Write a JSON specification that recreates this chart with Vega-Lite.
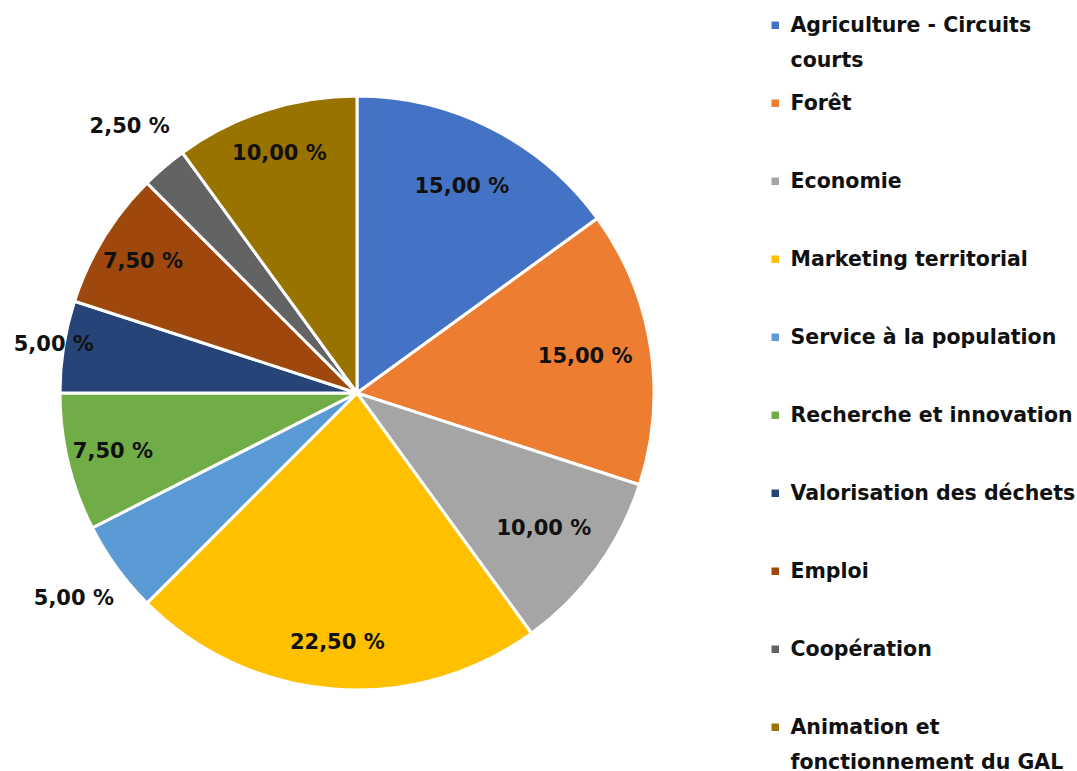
{
  "$schema": "https://vega.github.io/schema/vega-lite/v6.json",
  "width": 714,
  "height": 756,
  "padding": {"left": 0, "top": 15, "right": 0, "bottom": 0},
  "autosize": {"type": "pad"},
  "background": "white",
  "data": {
    "values": [
      {"idx": 1, "category": "Agriculture - Circuits courts", "value": 15, "label": "15,00 %"},
      {"idx": 2, "category": "Forêt", "value": 15, "label": "15,00 %"},
      {"idx": 3, "category": "Economie", "value": 10, "label": "10,00 %"},
      {"idx": 4, "category": "Marketing territorial", "value": 22.5, "label": "22,50 %"},
      {"idx": 5, "category": "Service à la population", "value": 5, "label": "5,00 %"},
      {"idx": 6, "category": "Recherche et innovation", "value": 7.5, "label": "7,50 %"},
      {"idx": 7, "category": "Valorisation des déchets", "value": 5, "label": "5,00 %"},
      {"idx": 8, "category": "Emploi", "value": 7.5, "label": "7,50 %"},
      {"idx": 9, "category": "Coopération", "value": 2.5, "label": "2,50 %"},
      {"idx": 10, "category": "Animation et fonctionnement du GAL", "value": 10, "label": "10,00 %"}
    ]
  },
  "encoding": {
    "theta": {"field": "value", "type": "quantitative", "stack": true},
    "order": {"field": "idx", "type": "quantitative"}
  },
  "layer": [
    {
      "mark": {"type": "arc", "outerRadius": 297, "stroke": "white", "strokeWidth": 3},
      "encoding": {
        "color": {
          "field": "category",
          "type": "nominal",
          "scale": {
            "domain": ["Agriculture - Circuits courts", "Forêt", "Economie", "Marketing territorial", "Service à la population", "Recherche et innovation", "Valorisation des déchets", "Emploi", "Coopération", "Animation et fonctionnement du GAL"],
            "range": ["#4472C4", "#ED7D31", "#A5A5A5", "#FFC000", "#5B9BD5", "#70AD47", "#264478", "#9E480E", "#636363", "#997300"]
          },
          "legend": {
            "title": null,
            "orient": "none",
            "legendX": 765,
            "legendY": 0,
            "padding": 0,
            "symbolType": "square",
            "symbolSize": 56,
            "symbolStrokeWidth": 0,
            "labelFont": "DejaVu Sans",
            "labelFontWeight": "bold",
            "labelFontSize": 20.5,
            "labelColor": "#111111",
            "labelLimit": 400,
            "labelOffset": 5,
            "labelBaseline": "alphabetic",
            "gridAlign": "all",
            "rowPadding": 21,
            "labelExpr": "datum.label == 'Agriculture - Circuits courts' ? ['Agriculture - Circuits', 'courts'] : datum.label == 'Animation et fonctionnement du GAL' ? ['Animation et', 'fonctionnement du GAL'] : datum.label",
            "encoding": {"labels": {"dy": {"value": 7}, "lineHeight": {"value": 35}}}
          }
        }
      }
    },
    {
      "mark": {"type": "text", "radius": 231, "font": "DejaVu Sans", "fontWeight": "bold", "fontSize": 21, "color": "#111111"},
      "encoding": {
        "text": {"condition": {"test": "datum.idx <= 3", "field": "label"}, "value": ""}
      }
    },
    {
      "mark": {"type": "text", "radius": 251, "font": "DejaVu Sans", "fontWeight": "bold", "fontSize": 21, "color": "#111111"},
      "encoding": {
        "text": {"condition": {"test": "datum.idx == 4 || datum.idx == 6 || datum.idx == 8 || datum.idx == 10", "field": "label"}, "value": ""}
      }
    },
    {
      "mark": {"type": "text", "radius": 307, "font": "DejaVu Sans", "fontWeight": "bold", "fontSize": 21, "color": "#111111"},
      "encoding": {
        "text": {"condition": {"test": "datum.idx == 7", "field": "label"}, "value": ""}
      }
    },
    {
      "mark": {"type": "text", "radius": 350, "font": "DejaVu Sans", "fontWeight": "bold", "fontSize": 21, "color": "#111111"},
      "encoding": {
        "text": {"condition": {"test": "datum.idx == 5 || datum.idx == 9", "field": "label"}, "value": ""}
      }
    }
  ],
  "config": {"view": {"stroke": null}}
}
